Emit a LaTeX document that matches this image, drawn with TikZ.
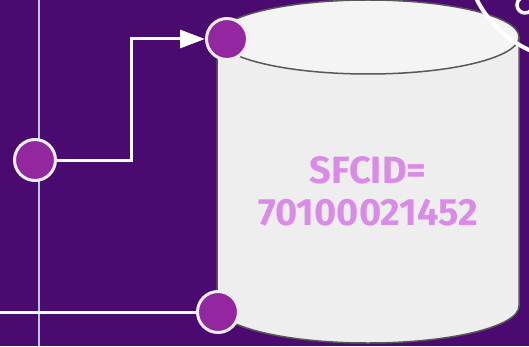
\documentclass[tikz,border=0pt]{standalone}
\usepackage{fontspec}
\setmainfont{Fira Sans}
\usetikzlibrary{arrows.meta}
\definecolor{bgpurple}{RGB}{74,10,112}
\definecolor{portfill}{RGB}{146,39,160}
\definecolor{portring}{RGB}{238,238,238}
\definecolor{gridline}{RGB}{184,200,232}
\definecolor{drumside}{RGB}{238,238,238}
\definecolor{drumtop}{RGB}{244,244,244}
\definecolor{drumedge}{RGB}{88,88,88}
\definecolor{idtext}{RGB}{218,139,232}
\tikzset{
  port/.style={circle,fill=portfill,draw=portring,line width=3pt,minimum size=41pt,inner sep=0pt},
  wire/.style={draw=white,line width=3pt},
  drum/.style={fill=drumside,draw=drumedge,line width=1.5pt},
}
\begin{document}
\begin{tikzpicture}[x=1pt,y=1pt]
			%%%%% START %%%%%
			\def\w{529}
			\def\h{346}
			\def\xl{217}
			\def\xr{519}
			\def\rx{151}
			\def\ry{37}
			\def\ytop{309}
			\def\ybot{40}
			
			\fill[bgpurple] (0,0) rectangle (\w,\h);
			\useasboundingbox (0,0) rectangle (\w,\h);
			
			\draw[gridline,line width=1.5pt] (39,0) -- (39,\h);
			
			% storage drum
			\draw[drum] (\xl,\ytop) -- (\xl,\ybot) arc[start angle=180,end angle=360,x radius=\rx,y radius=\ry] -- (\xr,\ytop);
			\draw[drum,fill=drumtop] (\xl+\rx,\ytop) ellipse[x radius=\rx,y radius=\ry];
			\node[idtext,font=\bfseries\fontsize{38}{42}\selectfont,align=center] (sfcid) at (\xl+\rx,155) {SFCID=\\70100021452};
			
			% ports
			\node[port] (src) at (35,186) {};
			\node[port] (inport) at (227,307) {};
			\node[port] (outport) at (218,34) {};
			
			\coordinate (bend) at (131,186);
			\coordinate (edge) at (0,34);
			\draw[wire,-{Triangle[length=25pt,width=18pt]}] (src) -- (bend) |- (inport);
			\draw[wire] (edge) -- (outport);
			
			% rings at the corner
			\draw[white,line width=4pt] (575,396) circle (110);
			\draw[white,line width=3.5pt] (525,341) circle (8);
			%%%%% END %%%%%
\end{tikzpicture}
\end{document}
